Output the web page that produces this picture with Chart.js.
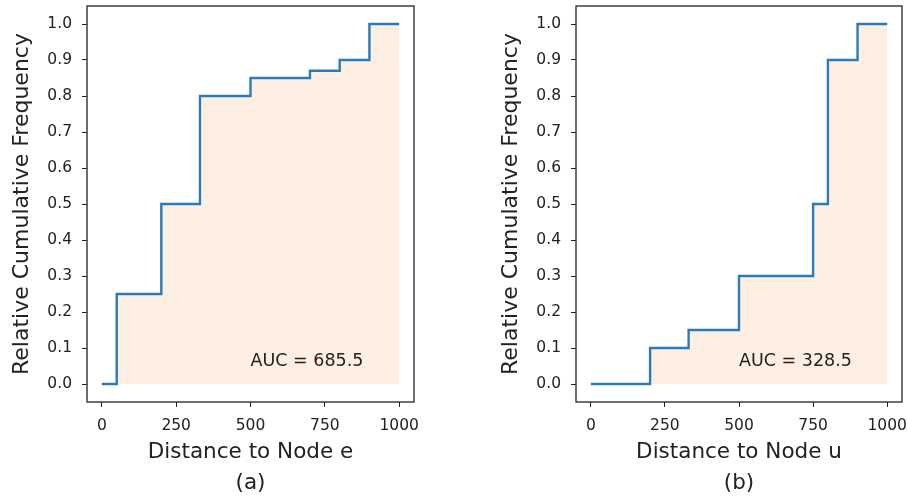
<!DOCTYPE html>
<html lang="en">
<head>
    <meta charset="UTF-8">
    <title>Relative Cumulative Frequency</title>
    <script src="https://cdn.jsdelivr.net/npm/chart.js"></script>
    <style>
        html, body { margin: 0; padding: 0; background: #fff; overflow: hidden; }
        canvas { position: absolute; top: 0; }
        #chartA { left: 0; }
        #chartB { left: 489px; }
    </style>
</head>
<body>
    <canvas id="chartA" width="454" height="496"></canvas>
    <canvas id="chartB" width="419" height="496"></canvas>

    <script>
        // step points (distance, cumulative frequency), value holds until the next distance
        const distA = [0, 50, 200, 330, 500, 700, 800, 900, 1000];
        const freqA = [0, 0.25, 0.5, 0.8, 0.85, 0.87, 0.9, 1.0, 1.0];
        const distB = [0, 200, 330, 500, 750, 800, 900, 1000];
        const freqB = [0, 0.1, 0.15, 0.3, 0.5, 0.9, 1.0, 1.0];

        const xTicks = [0, 250, 500, 750, 1000];
        const yTicks = [0, 0.1, 0.2, 0.3, 0.4, 0.5, 0.6, 0.7, 0.8, 0.9, 1.0];
        const aucAnchor = [500, 0.05];

        const FONT = 'DejaVu Sans';
        const INK = '#222';

        // area under the step curve
        function stepArea(xs, ys) {
            let area = 0;
            for (let i = 0; i < xs.length - 1; i++) {
                area += ys[i] * (xs[i + 1] - xs[i]);
            }
            return area;
        }

        // full box around the plot + AUC text
        const framePlugin = {
            id: 'frame',
            afterDraw(chart, args, opts) {
                const { ctx, chartArea: a, scales } = chart;
                ctx.save();
                ctx.strokeStyle = INK;
                ctx.lineWidth = 1.3;
                ctx.strokeRect(a.left, a.top, a.right - a.left, a.bottom - a.top);
                ctx.fillStyle = INK;
                ctx.font = '17.5px "' + FONT + '"';
                ctx.textAlign = 'left';
                ctx.textBaseline = 'alphabetic';
                ctx.fillText(opts.text, scales.x.getPixelForValue(aucAnchor[0]), scales.y.getPixelForValue(aucAnchor[1]));
                ctx.restore();
            }
        };

        function makeChart(id, xs, ys, xTitle, panel, padRight) {
            const auc = stepArea(xs, ys);
            const ctx = document.getElementById(id).getContext('2d');
            return new Chart(ctx, {
                type: 'line',
                data: {
                    datasets: [{
                        data: xs.map((x, i) => ({ x: x, y: ys[i] })),
                        stepped: 'before',
                        borderColor: '#2b7bb9',
                        borderWidth: 2.4,
                        backgroundColor: 'rgba(255, 127, 14, 0.12)',
                        fill: 'origin',
                        pointRadius: 0
                    }]
                },
                options: {
                    responsive: false,
                    animation: false,
                    layout: { padding: { top: 6, right: padRight, left: 0, bottom: 0 } },
                    plugins: {
                        legend: { display: false },
                        tooltip: { enabled: false },
                        frame: { text: 'AUC = ' + auc.toFixed(1) }
                    },
                    scales: {
                        x: {
                            type: 'linear',
                            min: -50,
                            max: 1050,
                            afterBuildTicks: s => { s.ticks = xTicks.map(v => ({ value: v })); },
                            afterFit: s => { s.height = 94; s.paddingLeft = 0; s.paddingRight = 0; },
                            border: { display: false },
                            grid: { drawOnChartArea: false, tickLength: 5, tickColor: INK, tickWidth: 1 },
                            ticks: {
                                color: INK,
                                padding: 10,
                                maxRotation: 0,
                                font: { family: FONT, size: 15.5 },
                                callback: v => String(v)
                            },
                            title: {
                                display: true,
                                text: [xTitle, panel],
                                color: INK,
                                font: { family: FONT, size: 21.5, lineHeight: 1.4 },
                                padding: { top: 0, bottom: -2 }
                            }
                        },
                        y: {
                            min: -0.05,
                            max: 1.05,
                            afterBuildTicks: s => { s.ticks = yTicks.map(v => ({ value: v })); },
                            afterFit: s => { s.width = 87; s.paddingTop = 0; s.paddingBottom = 0; },
                            border: { display: false },
                            grid: { drawOnChartArea: false, tickLength: 5, tickColor: INK, tickWidth: 1 },
                            ticks: {
                                color: INK,
                                padding: 10,
                                font: { family: FONT, size: 15.5 },
                                callback: v => v.toFixed(1)
                            },
                            title: {
                                display: true,
                                text: 'Relative Cumulative Frequency',
                                color: INK,
                                font: { family: FONT, size: 22 },
                                padding: { top: 9, bottom: 0 }
                            }
                        }
                    }
                },
                plugins: [framePlugin]
            });
        }

        makeChart('chartA', distA, freqA, 'Distance to Node e', '(a)', 40);
        makeChart('chartB', distB, freqB, 'Distance to Node u', '(b)', 6);
    </script>
</body>
</html>
